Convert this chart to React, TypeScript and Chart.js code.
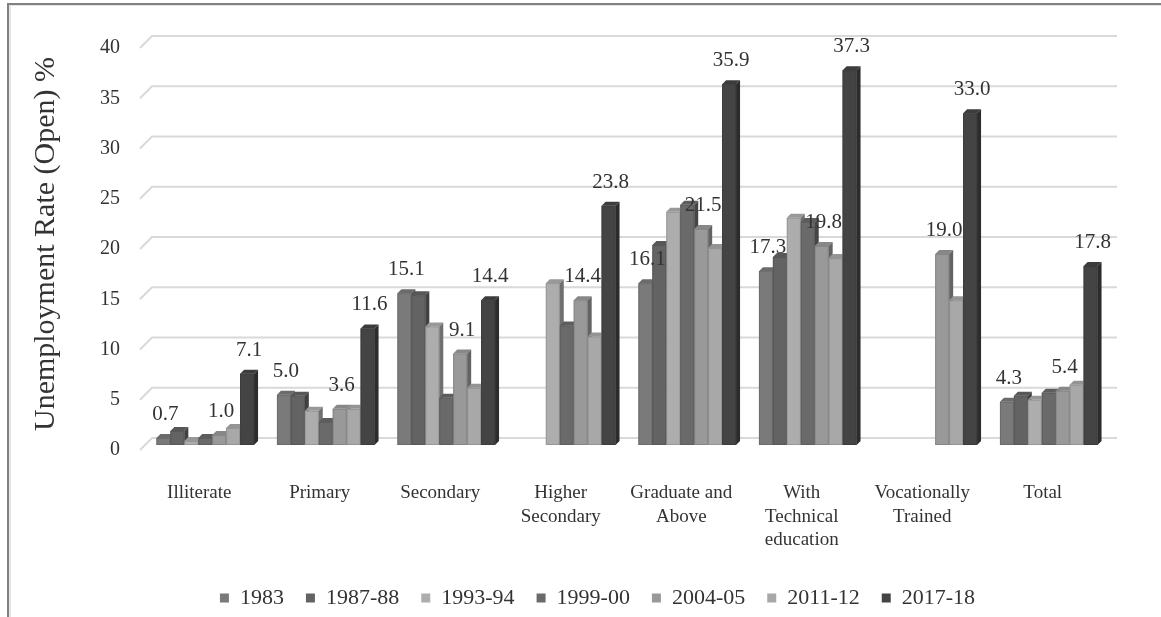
import React, { useEffect, useRef } from "react";
import { Chart, registerables } from "chart.js";

Chart.register(...registerables);

// Education levels on the x axis
const categories: (string | string[])[] = [
  "Illiterate",
  "Primary",
  "Secondary",
  ["Higher", "Secondary"],
  ["Graduate and", "Above"],
  ["With", "Technical", "education"],
  ["Vocationally", "Trained"],
  "Total",
];

// Survey rounds
const seriesNames = ["1983", "1987-88", "1993-94", "1999-00", "2004-05", "2011-12", "2017-18"];

// Open unemployment rate (%) per round
const rate1983 = [0.7, 5.0, 15.1, null, 16.1, 17.3, null, 4.3];
const rate1987 = [1.4, 4.9, 14.9, null, 19.9, 18.7, null, 4.9];
const rate1993 = [0.4, 3.4, 11.8, 16.1, 23.2, 22.6, null, 4.5];
const rate1999 = [0.7, 2.3, 4.7, 11.9, 23.9, 22.2, null, 5.2];
const rate2004 = [1.0, 3.6, 9.1, 14.4, 21.5, 19.8, 19.0, 5.4];
const rate2011 = [1.7, 3.6, 5.7, 10.8, 19.6, 18.6, 14.4, 6.0];
const rate2017 = [7.1, 11.6, 14.4, 23.8, 35.9, 37.3, 33.0, 17.8];

const seriesValues = [rate1983, rate1987, rate1993, rate1999, rate2004, rate2011, rate2017];
const seriesColors = ["#7a7a7a", "#636363", "#adadad", "#6a6a6a", "#999999", "#a8a8a8", "#444444"];

// Rounds whose values are printed above the bars
const labelledSeries = [0, 4, 6];

const yTicks = { min: 0, max: 40, step: 5 };

const FONT = "'Liberation Serif', 'Times New Roman', serif";
const DEPTH = 4;

function shade(hex: string, f: number): string {
  const n = parseInt(hex.slice(1), 16);
  const r = Math.round(((n >> 16) & 255) * f);
  const g = Math.round(((n >> 8) & 255) * f);
  const b = Math.round((n & 255) * f);
  return `rgb(${r},${g},${b})`;
}

// Outer frame of the figure
const framePlugin = {
  id: "frame",
  beforeDraw(chart: any) {
    const { ctx, width, height } = chart;
    ctx.save();
    ctx.fillStyle = "#ffffff";
    ctx.fillRect(0, 0, width, height);
    ctx.fillStyle = "#808080";
    ctx.fillRect(7, 3, width - 7, 2);
    ctx.fillRect(7, 3, 2, height - 3);
    ctx.fillStyle = "#e6e6e6";
    ctx.fillRect(9, 5, width - 9, 1);
    ctx.fillRect(9, 5, 2, height - 5);
    ctx.restore();
  },
};

// Nudge the legend row to sit under the plot
const legendShiftPlugin = {
  id: "legendShift",
  afterLayout(chart: any) {
    const lg = chart.legend;
    if (!lg) return;
    lg.left += 43;
    lg.right += 43;
    lg.top += 2;
    lg.bottom += 2;
  },
};

// Gridlines drawn on a slanted floor/back wall
const gridPlugin = {
  id: "slantGrid",
  beforeDatasetsDraw(chart: any) {
    const { ctx, chartArea } = chart;
    const y = chart.scales.y;
    ctx.save();
    ctx.strokeStyle = "#d9d9d9";
    ctx.lineWidth = 2;
    y.ticks.forEach((t: any) => {
      const py = y.getPixelForValue(t.value);
      ctx.beginPath();
      ctx.moveTo(chartArea.left - 5, py + 5);
      ctx.lineTo(chartArea.left + 7, py - 7);
      ctx.lineTo(chartArea.right + 8, py - 7);
      ctx.stroke();
    });
    ctx.restore();
  },
};

// Box faces of the bars and value labels
const boxPlugin = {
  id: "boxBars",
  afterDatasetsDraw(chart: any) {
    const { ctx } = chart;
    const nCat = chart.data.labels.length;
    const nSer = chart.data.datasets.length;
    ctx.save();
    for (let c = 0; c < nCat; c++) {
      for (let s = 0; s < nSer; s++) {
        const v = chart.data.datasets[s].data[c];
        if (v == null) continue;
        const el = chart.getDatasetMeta(s).data[c];
        const { x, y, base, width } = el.getProps(["x", "y", "base", "width"], true);
        const l = x - width / 2;
        const r = x + width / 2;
        const col = seriesColors[s];
        ctx.fillStyle = col;
        ctx.fillRect(l, y, width, base - y);
        ctx.strokeStyle = "rgba(0,0,0,0.12)";
        ctx.lineWidth = 1;
        ctx.strokeRect(l + 0.5, y + 0.5, width - 1, base - y - 1);
        ctx.fillStyle = shade(col, 0.88);
        ctx.beginPath();
        ctx.moveTo(l, y);
        ctx.lineTo(l + DEPTH, y - DEPTH);
        ctx.lineTo(r + DEPTH, y - DEPTH);
        ctx.lineTo(r, y);
        ctx.closePath();
        ctx.fill();
        ctx.fillStyle = shade(col, 0.65);
        ctx.beginPath();
        ctx.moveTo(r, y);
        ctx.lineTo(r + DEPTH, y - DEPTH);
        ctx.lineTo(r + DEPTH, base - DEPTH);
        ctx.lineTo(r, base);
        ctx.closePath();
        ctx.fill();
      }
    }
    ctx.fillStyle = "#333333";
    ctx.font = `21px ${FONT}`;
    ctx.textAlign = "center";
    ctx.textBaseline = "alphabetic";
    labelledSeries.forEach((s) => {
      const meta = chart.getDatasetMeta(s);
      chart.data.datasets[s].data.forEach((v: number | null, c: number) => {
        if (v == null) return;
        const el = meta.data[c];
        const { x, y } = el.getProps(["x", "y"], true);
        ctx.fillText(v.toFixed(1), x + 2, y - 18);
      });
    });
    ctx.restore();
  },
};

export default function App() {
  const canvasRef = useRef<HTMLCanvasElement | null>(null);

  useEffect(() => {
    const canvas = canvasRef.current;
    if (!canvas) return;
    const chart = new Chart(canvas, {
      type: "bar",
      data: {
        labels: categories,
        datasets: seriesNames.map((name, i) => ({
          label: name,
          data: seriesValues[i],
          backgroundColor: seriesColors[i],
          borderWidth: 0,
          categoryPercentage: 0.81,
          barPercentage: 1,
        })),
      },
      options: {
        responsive: false,
        animation: false,
        layout: { padding: { left: 0, right: 52, top: 43, bottom: 0 } },
        plugins: {
          legend: {
            position: "bottom",
            labels: {
              font: { family: FONT, size: 22 },
              color: "#333333",
              boxWidth: 9,
              boxHeight: 9,
              padding: 22,
            },
          },
          tooltip: { enabled: false },
        },
        scales: {
          x: {
            grid: { display: false, drawTicks: false },
            border: { display: false },
            ticks: {
              font: { family: FONT, size: 19, lineHeight: 1.25 },
              color: "#333333",
              maxRotation: 0,
              autoSkip: false,
              padding: 36,
              labelOffset: -6,
            },
            afterFit(scale: any) {
              scale.height = 118;
            },
          },
          y: {
            min: yTicks.min,
            max: yTicks.max,
            grid: { display: false, drawTicks: false },
            border: { display: false },
            ticks: {
              stepSize: yTicks.step,
              font: { family: FONT, size: 20 },
              color: "#333333",
              padding: 25,
              labelOffset: 5,
            },
            title: {
              display: true,
              text: "Unemployment Rate (Open) %",
              font: { family: FONT, size: 30 },
              color: "#333333",
              padding: { top: 28, bottom: 0 },
            },
            afterFit(scale: any) {
              scale.width = 145;
            },
          },
        },
      },
      plugins: [framePlugin, legendShiftPlugin, gridPlugin, boxPlugin],
    });
    return () => chart.destroy();
  }, []);

  return (
    <div style={{ position: "absolute", left: 0, top: 0, width: 1161, height: 617 }}>
      <canvas ref={canvasRef} width={1161} height={617} />
    </div>
  );
}
